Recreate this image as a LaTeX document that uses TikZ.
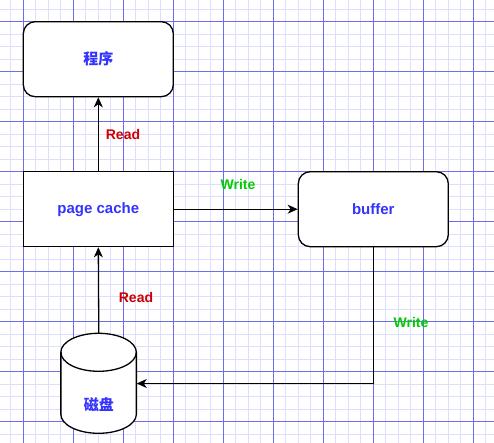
\documentclass[tikz,border=0pt]{standalone}
\usepackage{fontspec}
\setmainfont{Liberation Sans}
\newfontfamily\cjk{Noto Sans CJK SC}
\usetikzlibrary{arrows.meta}
\definecolor{minorgrid}{RGB}{222,222,255}
\definecolor{majorgrid}{RGB}{110,110,235}
\definecolor{lblue}{RGB}{51,51,255}
\definecolor{lred}{RGB}{204,0,0}
\definecolor{lgreen}{RGB}{0,204,0}
\tikzset{
  box/.style={draw=black, line width=1.3pt, fill=white, minimum width=150pt, minimum height=75pt, inner sep=0pt,
    font=\fontsize{15}{18}\selectfont\bfseries, text=lblue},
  rbox/.style={box, rounded corners=12pt},
  conn/.style={draw=black, line width=1.3pt, -{Stealth[length=10pt,width=9pt,inset=3pt]}},
  readlbl/.style={font=\fontsize{14}{17}\selectfont\bfseries, text=lred, inner sep=0pt},
  writelbl/.style={font=\fontsize{14}{17}\selectfont\bfseries, text=lgreen, inner sep=0pt},
}
\begin{document}
\begin{tikzpicture}[x=1pt,y=-1pt]
\useasboundingbox (0,0) rectangle (494,443);
\fill[white] (0,0) rectangle (494,443);
% grid
\foreach \i in {0,...,38} \draw[minorgrid, line width=1.3pt] ({10.8+12.5*\i},0) -- ({10.8+12.5*\i},443);
\foreach \i in {0,...,34} \draw[minorgrid, line width=1.3pt] (0,{9.2+12.5*\i}) -- (494,{9.2+12.5*\i});
\foreach \i in {0,...,9} \draw[majorgrid, line width=1pt] ({23.3+50*\i},0) -- ({23.3+50*\i},443);
\foreach \i in {0,...,8} \draw[majorgrid, line width=1pt] (0,{21.7+50*\i}) -- (494,{21.7+50*\i});
% nodes
\node[rbox] (prog) at (98.3,59.2) {\cjk\bfseries 程序};
\node[box] (pc) at (98.3,209.2) {page cache};
\node[rbox] (buf) at (373.3,209.2) {buffer};
\node[minimum width=75.5pt, minimum height=100pt, inner sep=0pt] (disk) at (98.8,383.5) {};
\draw[line width=1.3pt, fill=white] (disk.north west) ++(0,19) -- ++(0,62) arc[x radius=37.75, y radius=-19, start angle=180, end angle=360] -- ++(0,-62) arc[x radius=37.75, y radius=-19, start angle=0, end angle=180] -- cycle;
\draw[line width=1.3pt] (disk.north west) ++(0,19) arc[x radius=37.75, y radius=-19, start angle=180, end angle=360];
\node[font=\fontsize{15}{18}\selectfont, text=lblue] (disklbl) at (98.8,405) {\cjk\bfseries 磁盘};
% connectors
\draw[conn] (pc) -- (prog);
\draw[conn] (disk.north) -- (pc.south);
\draw[conn] (pc) -- (buf);
\draw[conn] (buf.south) |- (disk.east);
% labels
\node[readlbl] (r1) at (123,134) {Read};
\node[readlbl] (r2) at (136,297) {Read};
\node[writelbl] (w1) at (238,184) {Write};
\node[writelbl] (w2) at (411,322) {Write};
\end{tikzpicture}
\end{document}
